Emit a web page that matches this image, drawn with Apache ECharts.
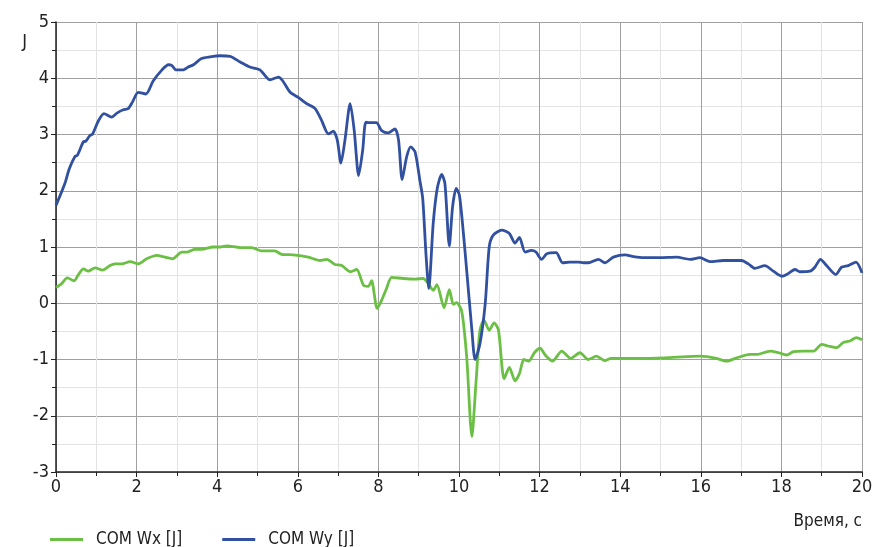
<!DOCTYPE html>
<html>
<head>
<meta charset="utf-8">
<script src="https://cdn.jsdelivr.net/npm/echarts@6/dist/echarts.min.js"></script>
<style>html,body{margin:0;padding:0;background:#fff;}#c{width:881px;height:547px;}</style>
</head>
<body>
<div id="c"></div>
<script>
const FONT = "'Liberation Sans Narrow', 'DejaVu Sans Condensed', 'Roboto Condensed', sans-serif";
const xTicks = [0, 2, 4, 6, 8, 10, 12, 14, 16, 18, 20];
const yTicks = [-3, -2, -1, 0, 1, 2, 3, 4, 5];
const seriesNames = ['COM Wx [J]', 'COM Wy [J]'];

const wxTime = [0,0.14,0.28,0.45,0.55,0.68,0.80,0.97,1.16,1.34,1.46,1.63,1.84,2.04,2.25,2.50,2.70,2.89,3.12,3.24,3.45,3.61,3.90,4.07,4.24,4.57,4.86,5.10,5.43,5.60,5.89,6.26,6.55,6.72,6.92,7.09,7.30,7.46,7.63,7.75,7.83,7.97,8.08,8.20,8.33,8.62,8.91,9.11,9.24,9.36,9.45,9.63,9.76,9.86,9.94,10.07,10.19,10.32,10.42,10.52,10.62,10.75,10.87,10.98,11.12,11.25,11.39,11.50,11.61,11.73,11.87,12.01,12.15,12.32,12.55,12.77,13.0,13.21,13.41,13.62,13.77,14.45,15.1,15.63,16.0,16.39,16.64,16.89,17.22,17.39,17.72,17.93,18.13,18.30,18.55,18.80,19.0,19.16,19.37,19.53,19.70,19.86,20.0];
const wxVal = [0.28,0.35,0.45,0.40,0.50,0.61,0.57,0.63,0.59,0.67,0.70,0.70,0.74,0.70,0.79,0.85,0.82,0.79,0.91,0.91,0.96,0.96,1.00,1.00,1.02,0.99,0.99,0.93,0.93,0.87,0.86,0.82,0.76,0.78,0.69,0.67,0.56,0.60,0.32,0.30,0.40,-0.09,0.05,0.26,0.46,0.44,0.43,0.44,0.35,0.23,0.33,-0.08,0.24,-0.02,0.01,-0.15,-0.95,-2.37,-1.43,-0.48,-0.30,-0.48,-0.35,-0.48,-1.34,-1.14,-1.38,-1.25,-1.0,-1.03,-0.88,-0.80,-0.93,-1.03,-0.85,-0.98,-0.88,-1.0,-0.94,-1.02,-0.98,-0.98,-0.97,-0.95,-0.94,-0.98,-1.03,-0.97,-0.91,-0.91,-0.85,-0.88,-0.92,-0.86,-0.85,-0.85,-0.73,-0.76,-0.79,-0.70,-0.67,-0.61,-0.65];

const wyTime = [0,0.22,0.33,0.47,0.53,0.68,0.74,0.84,0.91,1.05,1.19,1.38,1.51,1.67,1.79,1.90,2.04,2.23,2.41,2.62,2.79,2.87,2.98,3.16,3.28,3.41,3.61,3.82,4.07,4.32,4.57,4.81,5.06,5.31,5.52,5.62,5.81,6.01,6.22,6.43,6.59,6.76,6.88,6.98,7.07,7.17,7.30,7.40,7.51,7.61,7.69,7.79,7.95,8.08,8.25,8.41,8.50,8.59,8.70,8.80,8.91,9.03,9.10,9.18,9.25,9.36,9.46,9.57,9.65,9.76,9.84,9.93,10.01,10.11,10.19,10.32,10.40,10.52,10.65,10.75,10.85,11.06,11.25,11.39,11.50,11.64,11.80,11.91,12.05,12.18,12.41,12.57,12.75,12.96,13.09,13.21,13.46,13.62,13.83,14.12,14.33,14.58,14.99,15.40,15.73,15.98,16.23,16.56,16.81,17.01,17.18,17.34,17.59,17.80,18.01,18.13,18.34,18.46,18.71,18.83,18.97,19.12,19.35,19.49,19.66,19.85,20.0];
const wyVal = [1.74,2.13,2.39,2.61,2.63,2.87,2.88,2.98,3.01,3.24,3.37,3.31,3.38,3.44,3.46,3.58,3.75,3.72,3.95,4.14,4.24,4.23,4.15,4.15,4.20,4.24,4.35,4.38,4.40,4.39,4.29,4.20,4.15,3.97,4.02,3.96,3.75,3.66,3.55,3.46,3.25,3.01,3.06,2.90,2.49,2.90,3.55,3.07,2.27,2.72,3.22,3.21,3.21,3.07,3.03,3.10,2.90,2.20,2.60,2.78,2.69,2.18,1.86,0.88,0.26,1.42,2.04,2.29,2.13,1.02,1.71,2.04,1.92,1.24,0.59,-0.48,-1.0,-0.72,-0.01,1.0,1.21,1.30,1.24,1.07,1.17,0.91,0.94,0.91,0.78,0.88,0.90,0.72,0.73,0.73,0.72,0.72,0.78,0.72,0.82,0.86,0.83,0.81,0.81,0.82,0.78,0.81,0.74,0.76,0.76,0.76,0.70,0.62,0.67,0.57,0.48,0.51,0.60,0.56,0.57,0.64,0.78,0.67,0.51,0.64,0.67,0.73,0.54];

const zip = (a, b) => a.map((t, i) => [t, b[i]]);
const GREEN = '#6cbf45', BLUE = '#3150a0';

const chart = echarts.init(document.getElementById('c'), null, {renderer: 'canvas'});
chart.setOption({
  animation: false,
  backgroundColor: '#fff',
  grid: {left: 56, right: 19, top: 22, bottom: 75, containLabel: false},
  legend: {
    left: 45, top: 526,
    icon: 'rect', itemWidth: 33, itemHeight: 3, itemGap: 40,
    textStyle: {fontFamily: FONT, fontSize: 17, color: '#222', padding: [0, 0, 0, 8]},
    data: seriesNames
  },
  xAxis: {
    type: 'value', min: xTicks[0], max: xTicks[xTicks.length - 1], interval: 2,
    name: 'Время, с', nameLocation: 'end', nameGap: 0,
    nameTextStyle: {fontFamily: FONT, fontSize: 17, color: '#222', align: 'right', verticalAlign: 'top', padding: [41, 0, 0, 0]},
    axisLine: {show: true, onZero: false, lineStyle: {color: '#222', width: 1.5}},
    axisTick: {show: true, length: 5, lineStyle: {color: '#222'}},
    minorTick: {show: true, splitNumber: 2, length: 4, lineStyle: {color: '#222'}},
    axisLabel: {fontFamily: FONT, fontSize: 18, color: '#222', margin: 6},
    splitLine: {show: true, lineStyle: {color: '#a0a0a0', width: 1}},
    minorSplitLine: {show: true, lineStyle: {color: '#e3e3e3', width: 1}}
  },
  yAxis: {
    type: 'value', min: yTicks[0], max: yTicks[yTicks.length - 1], interval: 1,
    name: 'J', nameLocation: 'end', nameGap: -20,
    nameTextStyle: {fontFamily: FONT, fontSize: 18, color: '#222', align: 'right', verticalAlign: 'middle', padding: [0, 29, 0, 0]},
    axisLine: {show: true, onZero: false, lineStyle: {color: '#222', width: 1.5}},
    axisTick: {show: true, length: 5, lineStyle: {color: '#222'}},
    minorTick: {show: true, splitNumber: 2, length: 4, lineStyle: {color: '#222'}},
    axisLabel: {fontFamily: FONT, fontSize: 18, color: '#222', margin: 7},
    splitLine: {show: true, lineStyle: {color: '#a0a0a0', width: 1}},
    minorSplitLine: {show: true, lineStyle: {color: '#e3e3e3', width: 1}}
  },
  series: [
    {name: seriesNames[0], type: 'line', data: zip(wxTime, wxVal), showSymbol: false, smooth: 0.25,
     lineStyle: {color: GREEN, width: 2.8}, itemStyle: {color: GREEN}},
    {name: seriesNames[1], type: 'line', data: zip(wyTime, wyVal), showSymbol: false, smooth: 0.25,
     lineStyle: {color: BLUE, width: 2.8}, itemStyle: {color: BLUE}}
  ]
});
</script>
</body>
</html>
